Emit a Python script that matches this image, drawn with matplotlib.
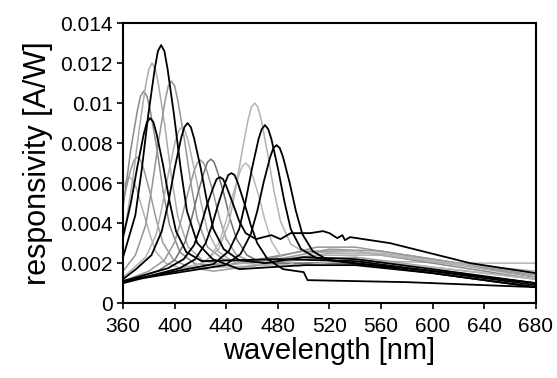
import numpy as np
import matplotlib
matplotlib.use('Agg')
from matplotlib import pyplot as plt

plt.rcParams['font.family'] = ['Liberation Sans', 'DejaVu Sans']

# responsivity curves, values in mA/W
wl_365 = [360, 362.5, 365, 367.5, 370, 375, 380, 385, 393, 405, 440, 500, 560, 620, 680]
r_365 = [5.7, 6.15, 6.3, 6.15, 5.8, 4.7, 3.6, 2.6, 2.0, 1.75, 1.8, 2.0, 2.1, 2.0, 2.0]

wl_371 = [360, 366, 368.5, 371, 373.5, 376, 381, 386, 391, 399, 411, 430, 500, 540, 600, 680]
r_371 = [5.1, 6.7, 7.15, 7.3, 7.15, 6.7, 5.5, 4.1, 3.0, 2.17, 1.8, 1.6, 2.2, 2.3, 1.8, 1.2]

wl_376 = [360, 366, 371, 373.5, 376, 378.5, 381, 386, 391, 396, 404, 416, 440, 500, 540, 600, 680]
r_376 = [4.8, 7.7, 9.6, 10.35, 10.6, 10.35, 9.65, 7.8, 5.6, 3.9, 2.55, 1.95, 1.9, 2.6, 2.6, 2.0, 1.2]

wl_381 = [360, 366, 371, 376, 378.5, 381, 383.5, 386, 391, 396, 401, 409, 421, 480, 540, 600, 680]
r_381 = [3.3, 5.0, 6.8, 8.45, 9.05, 9.25, 9.05, 8.45, 6.9, 5.1, 3.6, 2.55, 2.1, 2.2, 2.1, 1.6, 0.9]

wl_382 = [360, 362.5, 367.5, 372.5, 377.5, 380, 382.5, 385, 387.5, 392.5, 397.5, 402.5, 410.5,
          422.5, 440, 510, 560, 620, 680]
r_382 = [3.4, 4.1, 6.2, 8.7, 10.9, 11.7, 12.0, 11.7, 10.9, 8.8, 6.3, 4.3, 2.8,
         2.1, 1.9, 2.4, 2.4, 1.9, 1.3]

wl_389 = [360, 369.5, 374.5, 379.5, 384.5, 387, 389.5, 392, 394.5, 399.5, 404.5, 409.5, 417.5,
          429.5, 450, 500, 540, 600, 680]
r_389 = [2.3, 4.4, 6.7, 9.4, 11.7, 12.6, 12.9, 12.6, 11.7, 9.4, 6.8, 4.6, 3.0,
         2.2, 1.7, 1.9, 1.9, 1.5, 0.8]

wl_397 = [360, 369.5, 377.5, 382.5, 387.5, 392.5, 395, 397.5, 400, 402.5, 407.5, 412.5, 417.5,
          425.5, 437.5, 460, 510, 540, 600, 680]
r_397 = [1.6, 2.4, 3.9, 5.85, 8.1, 10.1, 10.85, 11.1, 10.85, 10.1, 8.2, 6.0, 4.2,
         2.8, 2.2, 2.0, 2.8, 2.8, 2.2, 1.4]

wl_405 = [360, 365.5, 377.5, 385.5, 390.5, 395.5, 400.5, 403, 405.5, 408, 410.5, 415.5, 420.5,
          425.5, 433.5, 445.5, 470, 520, 560, 620, 680]
r_405 = [1.3, 1.6, 2.3, 3.4, 4.9, 6.6, 8.1, 8.6, 8.8, 8.6, 8.1, 6.6, 5.0,
         3.6, 2.6, 2.05, 1.9, 2.5, 2.5, 2.0, 1.5]

wl_410 = [360, 370, 382, 390, 395, 400, 405, 407.5, 410, 412.5, 415, 420, 425, 430, 438, 450,
          470, 500, 540, 600, 680]
r_410 = [1.2, 1.7, 2.4, 3.6, 5.0, 6.75, 8.25, 8.8, 9.0, 8.8, 8.25, 6.8, 5.1, 3.7, 2.7, 2.15,
         2.0, 2.3, 2.2, 1.7, 1.0]

wl_420 = [360, 380, 392, 400, 405, 410, 415, 417.5, 420, 422.5, 425, 430, 435, 440, 448, 460,
          480, 520, 560, 620, 680]
r_420 = [1.1, 1.6, 2.15, 3.05, 4.15, 5.45, 6.6, 7.0, 7.15, 7.0, 6.6, 5.5, 4.2, 3.2, 2.4, 2.05,
         2.2, 2.7, 2.6, 2.0, 1.3]

wl_428 = [360, 388, 400, 408, 413, 418, 423, 425.5, 428, 430.5, 433, 438, 443, 448, 456, 468,
          520, 560, 620, 680]
r_428 = [1.0, 1.65, 2.15, 3.05, 4.2, 5.5, 6.6, 7.05, 7.2, 7.05, 6.6, 5.5, 4.2, 3.2, 2.4, 2.0,
         2.0, 1.9, 1.5, 1.0]

wl_435 = [360, 395, 407, 415, 420, 425, 430, 432.5, 435, 437.5, 440, 445, 450, 455, 463, 475,
          482, 490, 505, 515, 520, 526, 530, 532, 536, 567, 598, 629, 680]
r_435 = [1.1, 1.75, 2.2, 2.9, 3.8, 4.9, 5.8, 6.2, 6.3, 6.2, 5.85, 5.0, 4.1, 3.5, 3.2, 3.4,
         3.2, 3.5, 3.5, 3.6, 3.5, 3.25, 3.4, 3.15, 3.3, 3.0, 2.5, 2.0, 1.5]

wl_444 = [360, 404, 416, 424, 429, 434, 439, 441.5, 444, 446.5, 449, 454, 459, 464, 472, 484,
          500, 503, 580, 680]
r_444 = [1.0, 1.75, 2.2, 3.0, 3.9, 5.0, 6.0, 6.4, 6.5, 6.4, 6.0, 5.0, 3.9, 3.0, 2.2, 1.7,
         1.55, 1.15, 1.05, 0.8]

wl_455 = [360, 415, 427, 435, 440, 445, 450, 452.5, 455, 457.5, 460, 465, 470, 475, 483, 495,
          540, 600, 680]
r_455 = [1.0, 1.8, 2.25, 3.1, 4.15, 5.4, 6.45, 6.85, 7.0, 6.85, 6.45, 5.4, 4.15, 3.1, 2.25, 1.85,
         2.2, 1.8, 1.2]

wl_462 = [360, 422, 434, 442, 447, 452, 457, 459.5, 462, 464.5, 467, 472, 477, 482, 490, 502,
          540, 600, 680]
r_462 = [1.1, 2.0, 2.7, 4.0, 5.6, 7.5, 9.2, 9.8, 10.0, 9.8, 9.2, 7.5, 5.6, 4.1, 2.95, 2.5,
         2.6, 2.1, 1.6]

wl_470 = [360, 430, 442, 450, 455, 460, 465, 467.5, 470, 472.5, 475, 480, 485, 490, 498, 510,
          540, 600, 680]
r_470 = [1.1, 1.95, 2.6, 3.7, 5.1, 6.75, 8.2, 8.7, 8.9, 8.7, 8.2, 6.75, 5.1, 3.7, 2.7, 2.25,
         2.0, 1.6, 1.0]

wl_479 = [360, 439, 451, 459, 464, 469, 474, 476.5, 479, 481.5, 484, 489, 494, 499, 507, 519,
          550, 600, 680]
r_479 = [1.1, 1.9, 2.45, 3.45, 4.6, 6.05, 7.3, 7.75, 7.9, 7.75, 7.3, 6.05, 4.6, 3.45, 2.6, 2.15,
         1.9, 1.5, 0.8]

gray_curves = [
    (wl_365, r_365, '#b4b4b4'),
    (wl_371, r_371, '#9a9a9a'),
    (wl_376, r_376, '#8a8a8a'),
    (wl_382, r_382, '#ababab'),
    (wl_397, r_397, '#959595'),
    (wl_405, r_405, '#b0b0b0'),
    (wl_420, r_420, '#999999'),
    (wl_428, r_428, '#6e6e6e'),
    (wl_455, r_455, '#b8b8b8'),
    (wl_462, r_462, '#b2b2b2'),
]
black_curves = [
    (wl_381, r_381), (wl_389, r_389), (wl_410, r_410), (wl_435, r_435),
    (wl_444, r_444), (wl_470, r_470), (wl_479, r_479),
]

x_ticks = [360, 400, 440, 480, 520, 560, 600, 640, 680]
y_ticks = [0, 0.002, 0.004, 0.006, 0.008, 0.01, 0.012, 0.014]
y_tick_labels = ['0', '0.002', '0.004', '0.006', '0.008', '0.01', '0.012', '0.014']

fig = plt.figure(figsize=(5.57, 3.78), dpi=100)
ax = fig.add_axes([0.221, 0.198, 0.741, 0.741])

for wl, r, c in gray_curves:
    ax.plot(wl, np.array(r) * 1e-3, color=c, lw=1.1)
for wl, r in black_curves:
    ax.plot(wl, np.array(r) * 1e-3, color='black', lw=1.3)

ax.set_xlim(360, 680)
ax.set_ylim(0, 0.014)
ax.set_xticks(x_ticks)
ax.set_yticks(y_ticks, labels=y_tick_labels)
ax.tick_params(direction='out', length=4, width=1.2, labelsize=15)
ax.tick_params(axis='x', pad=6)
for s in ax.spines.values():
    s.set_linewidth(1.5)

ax.set_xlabel('wavelength [nm]', fontsize=21, labelpad=1)
ax.set_ylabel('responsivity [A/W]', fontsize=22, labelpad=5)

fig.savefig('out.png', dpi=100)
